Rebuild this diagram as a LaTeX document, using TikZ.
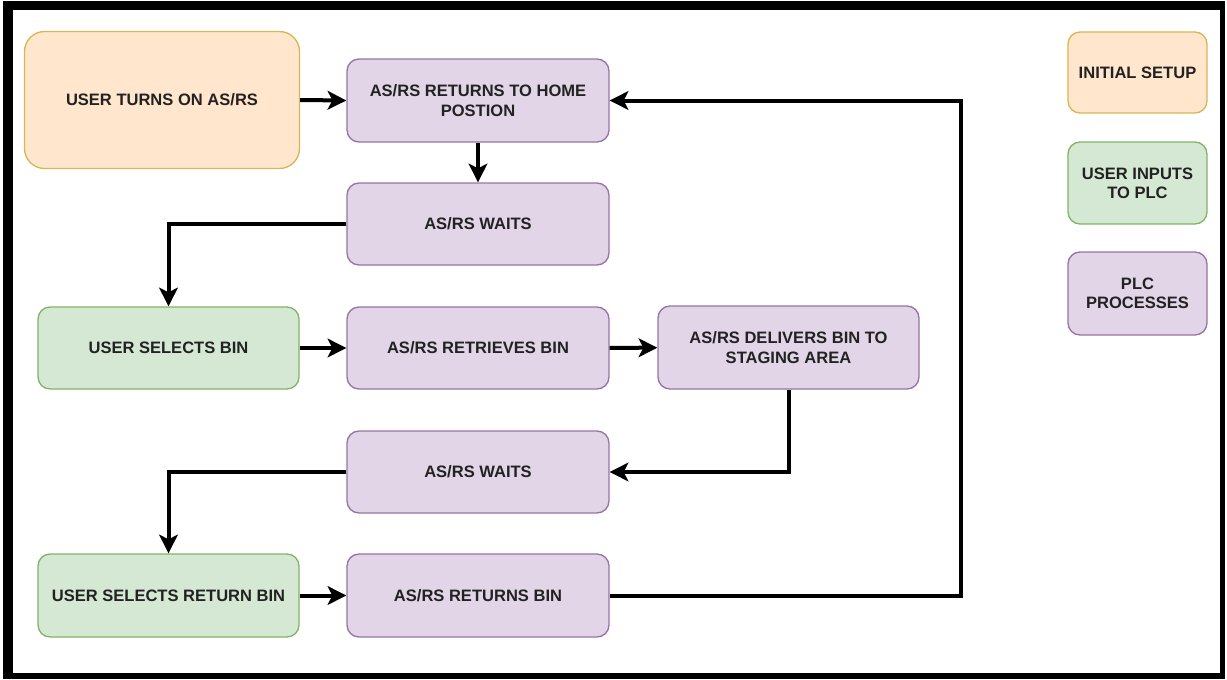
\documentclass[tikz,border=0pt]{standalone}
\usepackage{fontspec}
\setmainfont{Liberation Sans}
\usetikzlibrary{arrows.meta}
\definecolor{orFill}{HTML}{FFE6CC}
\definecolor{orLine}{HTML}{D6B656}
\definecolor{grFill}{HTML}{D5E8D4}
\definecolor{grLine}{HTML}{82B366}
\definecolor{puFill}{HTML}{E1D5E7}
\definecolor{puLine}{HTML}{9673A6}
\definecolor{txt}{HTML}{222222}
\tikzset{
  box/.style={draw, line width=1pt, rounded corners=9pt, align=center, inner sep=2pt,
    text=txt, font=\fontsize{12.4pt}{14.5pt}\selectfont\bfseries},
  sz/.style 2 args={minimum width=#1*0.75pt, minimum height=#2*0.75pt},
  initbox/.style={box, fill=orFill, draw=orLine},
  userbox/.style={box, fill=grFill, draw=grLine},
  procbox/.style={box, fill=puFill, draw=puLine},
  conn/.style={line width=3pt, -{Stealth[length=14pt, width=14pt, inset=3.5pt]}},
}
\begin{document}
\begin{tikzpicture}[x=0.75pt, y=-0.75pt]
\useasboundingbox (0,0) rectangle (1227,679);
% frame
\fill[black] (3,1) rectangle (1225,10);
\fill[black] (3,1) rectangle (13,679);
\fill[black] (3,673) rectangle (1225,679);
\fill[black] (1220,1) rectangle (1225,679);

% flow nodes
\node[initbox, sz={275}{137}, rounded corners=15pt] (start) at (162,100) {USER TURNS ON AS/RS};
\node[procbox, sz={262}{83}] (home) at (478,100.5) {AS/RS RETURNS TO HOME\\POSTION};
\node[procbox, sz={262}{82}] (wait1) at (478,224) {AS/RS WAITS};
\node[userbox, sz={261}{82}] (sel) at (168.5,348) {USER SELECTS BIN};
\node[procbox, sz={262}{82}] (retr) at (478,348) {AS/RS RETRIEVES BIN};
\node[procbox, sz={261}{83}] (deliv) at (788.5,347.5) {AS/RS DELIVERS BIN TO\\STAGING AREA};
\node[procbox, sz={262}{82}] (wait2) at (478,472) {AS/RS WAITS};
\node[userbox, sz={261}{83}] (selret) at (168.5,595.5) {USER SELECTS RETURN BIN};
\node[procbox, sz={262}{83}] (retbin) at (478,595.5) {AS/RS RETURNS BIN};

% legend
\node[initbox, sz={139}{81}] (leg1) at (1137.5,72.5) {INITIAL SETUP};
\node[userbox, sz={139}{82}] (leg2) at (1137.5,183) {USER INPUTS\\TO PLC};
\node[procbox, sz={139}{83}] (leg3) at (1137.5,293.5) {PLC\\PROCESSES};

% connectors
\coordinate (loop) at (961,595.5);
\draw[conn] (start.east) -- (home.west);
\draw[conn] (home) -- (wait1);
\draw[conn] (wait1.west) -| (sel.north);
\draw[conn] (sel) -- (retr);
\draw[conn] (retr) -- (deliv);
\draw[conn] (deliv.south) |- (wait2.east);
\draw[conn] (wait2.west) -| (selret.north);
\draw[conn] (selret) -- (retbin);
\draw[conn] (retbin.east) -- (loop) |- (home.east);
\end{tikzpicture}
\end{document}
